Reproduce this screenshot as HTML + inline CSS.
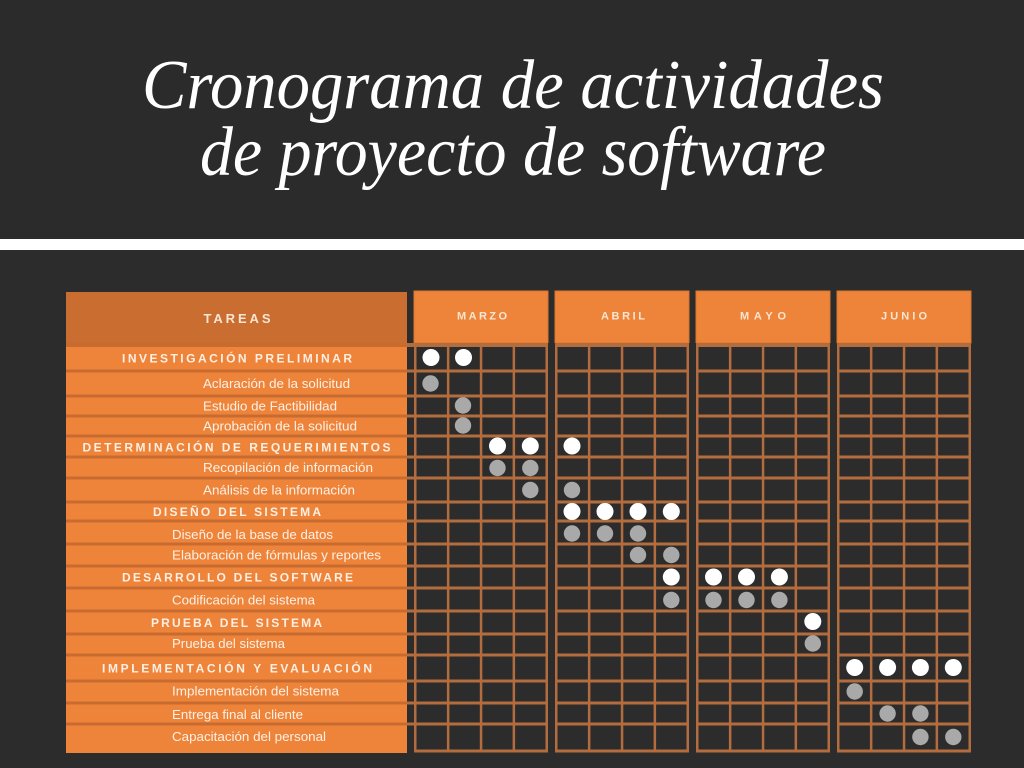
<!DOCTYPE html>
<html><head><meta charset="utf-8"><style>
html,body{margin:0;padding:0;background:#2c2c2c;}
svg{display:block;}
</style></head><body>
<svg width="1024" height="768" viewBox="0 0 1024 768" xmlns="http://www.w3.org/2000/svg">
<rect x="0" y="0" width="1024" height="768" fill="#2c2c2c"/>
<rect x="0" y="0" width="1024" height="239" fill="#2b2b2b"/>
<rect x="0" y="239" width="1024" height="11" fill="#ffffff"/>

<text x="513" y="108" text-anchor="middle" font-family="Liberation Serif, serif" font-style="italic" font-size="70" fill="#ffffff" textLength="742" lengthAdjust="spacingAndGlyphs">Cronograma de actividades</text>
<text x="513" y="175" text-anchor="middle" font-family="Liberation Serif, serif" font-style="italic" font-size="70" fill="#ffffff" textLength="626" lengthAdjust="spacingAndGlyphs">de proyecto de software</text>

<!-- header -->
<rect x="66" y="292" width="341" height="51" fill="#c96d31"/>
<text x="237" y="323" text-anchor="middle" font-family="Liberation Sans, sans-serif" font-weight="bold" font-size="13" fill="#f8e6d4" textLength="67" lengthAdjust="spacing">TAREAS</text>
<rect x="414" y="291" width="134" height="52" fill="#ee843a" stroke="#d8762f" stroke-width="1"/>
<rect x="555" y="291" width="134" height="52" fill="#ee843a" stroke="#d8762f" stroke-width="1"/>
<rect x="696" y="291" width="134" height="52" fill="#ee843a" stroke="#d8762f" stroke-width="1"/>
<rect x="837" y="291" width="134" height="52" fill="#ee843a" stroke="#d8762f" stroke-width="1"/>
<g font-family="Liberation Sans, sans-serif" font-weight="bold" font-size="11" fill="#f8e6d4" text-anchor="middle">
<text x="482" y="319.5" textLength="50" lengthAdjust="spacing">MARZO</text>
<text x="623" y="319.5" textLength="44" lengthAdjust="spacing">ABRIL</text>
<text x="763" y="319.5" textLength="46" lengthAdjust="spacing">MAYO</text>
<text x="904" y="319.5" textLength="46" lengthAdjust="spacing">JUNIO</text>
</g>

<!-- task column -->
<rect x="66" y="343" width="341" height="410" fill="#ee843a"/>
<g fill="#c86b30">
<rect x="66" y="343" width="341" height="4"/>
<rect x="66" y="369.5" width="341" height="3"/>
<rect x="66" y="394.5" width="341" height="3"/>
<rect x="66" y="414.5" width="341" height="3"/>
<rect x="66" y="434.5" width="341" height="3"/>
<rect x="66" y="455.5" width="341" height="3"/>
<rect x="66" y="476.5" width="341" height="3"/>
<rect x="66" y="500.5" width="341" height="3"/>
<rect x="66" y="519.5" width="341" height="3"/>
<rect x="66" y="542.5" width="341" height="3"/>
<rect x="66" y="564.5" width="341" height="3"/>
<rect x="66" y="586.5" width="341" height="3"/>
<rect x="66" y="609.5" width="341" height="3"/>
<rect x="66" y="632.5" width="341" height="3"/>
<rect x="66" y="653.5" width="341" height="3"/>
<rect x="66" y="679.5" width="341" height="3"/>
<rect x="66" y="701.5" width="341" height="3"/>
<rect x="66" y="722.5" width="341" height="3"/>
</g>

<!-- grid horizontal lines -->
<g fill="#b36c3e">
<rect x="407" y="343" width="564" height="4"/>
<rect x="407" y="369.5" width="564" height="3"/>
<rect x="407" y="394.5" width="564" height="3"/>
<rect x="407" y="414.5" width="564" height="3"/>
<rect x="407" y="434.5" width="564" height="3"/>
<rect x="407" y="455.5" width="564" height="3"/>
<rect x="407" y="476.5" width="564" height="3"/>
<rect x="407" y="500.5" width="564" height="3"/>
<rect x="407" y="519.5" width="564" height="3"/>
<rect x="407" y="542.5" width="564" height="3"/>
<rect x="407" y="564.5" width="564" height="3"/>
<rect x="407" y="586.5" width="564" height="3"/>
<rect x="407" y="609.5" width="564" height="3"/>
<rect x="407" y="632.5" width="564" height="3"/>
<rect x="407" y="653.5" width="564" height="3"/>
<rect x="407" y="679.5" width="564" height="3"/>
<rect x="407" y="701.5" width="564" height="3"/>
<rect x="407" y="722.5" width="564" height="3"/>
<rect x="414" y="749.5" width="557" height="3"/>
</g>
<!-- gaps between months -->
<g fill="#2c2c2c">
<rect x="548" y="343" width="8" height="412"/>
<rect x="689" y="343" width="8" height="412"/>
<rect x="830" y="343" width="8" height="412"/>
<rect x="407" y="749.5" width="7" height="5"/>
</g>
<!-- vertical lines -->
<g fill="#b36c3e">
<rect x="414" y="343" width="2.5" height="409.5"/>
<rect x="446.9" y="343" width="2.5" height="409.5"/>
<rect x="479.8" y="343" width="2.5" height="409.5"/>
<rect x="512.6" y="343" width="2.5" height="409.5"/>
<rect x="545.5" y="343" width="2.5" height="409.5"/>

<rect x="555" y="343" width="2.5" height="409.5"/>
<rect x="587.9" y="343" width="2.5" height="409.5"/>
<rect x="620.8" y="343" width="2.5" height="409.5"/>
<rect x="653.6" y="343" width="2.5" height="409.5"/>
<rect x="686.5" y="343" width="2.5" height="409.5"/>

<rect x="696" y="343" width="2.5" height="409.5"/>
<rect x="728.9" y="343" width="2.5" height="409.5"/>
<rect x="761.8" y="343" width="2.5" height="409.5"/>
<rect x="794.6" y="343" width="2.5" height="409.5"/>
<rect x="827.5" y="343" width="2.5" height="409.5"/>

<rect x="837" y="343" width="2.5" height="409.5"/>
<rect x="869.9" y="343" width="2.5" height="409.5"/>
<rect x="902.8" y="343" width="2.5" height="409.5"/>
<rect x="935.6" y="343" width="2.5" height="409.5"/>
<rect x="968.5" y="343" width="2.5" height="409.5"/>
</g>

<!-- category labels -->
<g font-family="Liberation Sans, sans-serif" font-weight="bold" font-size="12" fill="#fcefe3" text-anchor="middle">
<text x="237" y="362.5" textLength="230" lengthAdjust="spacing">INVESTIGACIÓN PRELIMINAR</text>
<text x="236.5" y="451.5" textLength="308" lengthAdjust="spacing">DETERMINACIÓN DE REQUERIMIENTOS</text>
<text x="237" y="516" textLength="168" lengthAdjust="spacing">DISEÑO DEL SISTEMA</text>
<text x="237.5" y="581.5" textLength="231" lengthAdjust="spacing">DESARROLLO DEL SOFTWARE</text>
<text x="236.5" y="627" textLength="171" lengthAdjust="spacing">PRUEBA DEL SISTEMA</text>
<text x="237" y="672.5" textLength="270" lengthAdjust="spacing">IMPLEMENTACIÓN Y EVALUACIÓN</text>
</g>
<!-- subtask labels -->
<g font-family="Liberation Sans, sans-serif" font-size="12.5" fill="#fdf0e5">
<text x="203" y="388" textLength="147" lengthAdjust="spacingAndGlyphs">Aclaración de la solicitud</text>
<text x="203" y="410.5" textLength="134" lengthAdjust="spacingAndGlyphs">Estudio de Factibilidad</text>
<text x="203" y="430.5" textLength="154" lengthAdjust="spacingAndGlyphs">Aprobación de la solicitud</text>
<text x="203" y="472" textLength="170" lengthAdjust="spacingAndGlyphs">Recopilación de información</text>
<text x="203" y="494.5" textLength="152" lengthAdjust="spacingAndGlyphs">Análisis de la información</text>
<text x="172" y="539" textLength="161" lengthAdjust="spacingAndGlyphs">Diseño de la base de datos</text>
<text x="172" y="559.5" textLength="209" lengthAdjust="spacingAndGlyphs">Elaboración de fórmulas y reportes</text>
<text x="172" y="604.5" textLength="143" lengthAdjust="spacingAndGlyphs">Codificación del sistema</text>
<text x="172" y="648" textLength="113" lengthAdjust="spacingAndGlyphs">Prueba del sistema</text>
<text x="172" y="695.5" textLength="167" lengthAdjust="spacingAndGlyphs">Implementación del sistema</text>
<text x="172" y="719" textLength="131" lengthAdjust="spacingAndGlyphs">Entrega final al cliente</text>
<text x="172" y="741" textLength="154" lengthAdjust="spacingAndGlyphs">Capacitación del personal</text>
</g>

<!-- dots -->
<g fill="#ffffff">
<circle cx="431" cy="357.5" r="8.5"/>
<circle cx="463.5" cy="357.5" r="8.5"/>
<circle cx="497.5" cy="446" r="8.5"/>
<circle cx="530.3" cy="446" r="8.5"/>
<circle cx="572" cy="446" r="8.5"/>
<circle cx="572" cy="511.5" r="8.5"/>
<circle cx="605" cy="511.5" r="8.5"/>
<circle cx="638" cy="511.5" r="8.5"/>
<circle cx="671.3" cy="511.5" r="8.5"/>
<circle cx="671.3" cy="577" r="8.5"/>
<circle cx="713.5" cy="577" r="8.5"/>
<circle cx="746.5" cy="577" r="8.5"/>
<circle cx="779.4" cy="577" r="8.5"/>
<circle cx="812.8" cy="621.5" r="8.5"/>
<circle cx="854.7" cy="667.5" r="8.5"/>
<circle cx="887.6" cy="667.5" r="8.5"/>
<circle cx="920.4" cy="667.5" r="8.5"/>
<circle cx="953.3" cy="667.5" r="8.5"/>
</g>
<g fill="#a9a9a9">
<circle cx="430.5" cy="383.5" r="8.2"/>
<circle cx="463" cy="405.5" r="8.2"/>
<circle cx="463" cy="425.5" r="8.2"/>
<circle cx="497.5" cy="468" r="8.2"/>
<circle cx="530.3" cy="468" r="8.2"/>
<circle cx="530.3" cy="490" r="8.2"/>
<circle cx="572" cy="490" r="8.2"/>
<circle cx="572" cy="533.5" r="8.2"/>
<circle cx="605" cy="533.5" r="8.2"/>
<circle cx="638" cy="533.5" r="8.2"/>
<circle cx="638" cy="555" r="8.2"/>
<circle cx="671.3" cy="555" r="8.2"/>
<circle cx="671.3" cy="600" r="8.2"/>
<circle cx="713.5" cy="600" r="8.2"/>
<circle cx="746.5" cy="600" r="8.2"/>
<circle cx="779.4" cy="600" r="8.2"/>
<circle cx="812.8" cy="643.5" r="8.2"/>
<circle cx="854.7" cy="691.5" r="8.2"/>
<circle cx="887.6" cy="713.5" r="8.2"/>
<circle cx="920.4" cy="713.5" r="8.2"/>
<circle cx="920.4" cy="737" r="8.2"/>
<circle cx="953.3" cy="737" r="8.2"/>
</g>
</svg>
</body></html>
